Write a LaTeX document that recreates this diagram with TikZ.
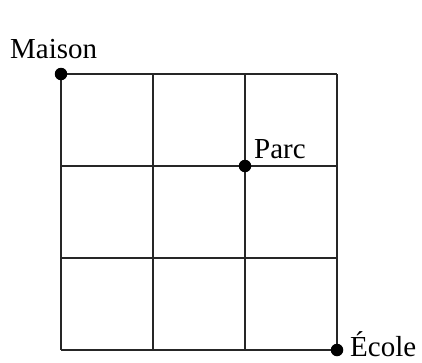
\documentclass[tikz,border=0pt]{standalone}
\usepackage{fontspec}
\setmainfont{Liberation Serif}
\begin{document}
\begin{tikzpicture}[x=1pt,y=-1pt,
  gridline/.style={line width=1.3pt,black!85},
  pt/.style={circle,fill=black,inner sep=0pt,minimum size=12.5pt},
  lbl/.style={font=\fontsize{29}{30}\selectfont,inner sep=0pt,anchor=base west}]
\useasboundingbox[fill=white] (0,0) rectangle (422,362);
\foreach \i in {0,1,2,3} {
  \draw[gridline] (61+92*\i,74) -- (61+92*\i,350);
  \draw[gridline] (61,74+92*\i) -- (337,74+92*\i);
}
\node[pt] (maison) at (61,74) {};
\node[pt] (parc) at (245,166) {};
\node[pt] (ecole) at (337,350) {};
\node[lbl] (lmaison) at (10,58) {Maison};
\node[lbl] (lparc) at (254,158) {Parc};
\node[lbl] (lecole) at (350,356) {École};
\end{tikzpicture}
\end{document}
